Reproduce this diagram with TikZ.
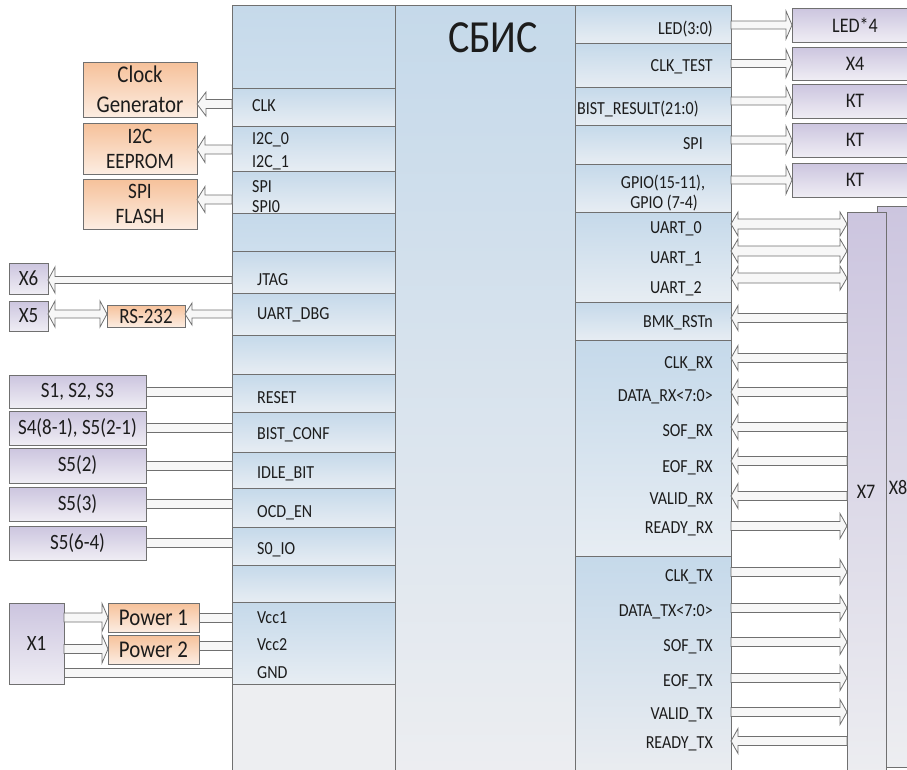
\documentclass[tikz,border=0pt]{standalone}
\usepackage{fontspec}
\setmainfont{Carlito}[FakeStretch=0.87]
\usetikzlibrary{calc}
\definecolor{chipblue}{RGB}{197,217,234}
\definecolor{cellbot}{RGB}{231,237,243}
\definecolor{chipgray}{RGB}{237,238,241}
\definecolor{orTop}{RGB}{246,193,154}
\definecolor{orBot}{RGB}{252,237,226}
\definecolor{puTop}{RGB}{204,197,223}
\definecolor{puBot}{RGB}{239,237,244}
\definecolor{edge}{RGB}{112,112,112}
\definecolor{txt}{RGB}{28,28,28}
\definecolor{arrfill}{RGB}{247,247,247}
\newcommand\mkbox[7]{\node[#2, minimum width={(#5-#3)*1pt}, minimum height={(#6-#4)*1pt}] (#1) at ({(#3+#5)/2},{(#4+#6)/2}) {#7};}
\tikzset{
  basebox/.style={draw=edge, line width=0.9pt, inner sep=0pt, outer sep=0pt, text=txt, align=center},
  cell/.style={basebox, top color=chipblue, bottom color=cellbot},
  cellblue/.style={basebox, top color=chipblue, bottom color=chipblue!85!white},
  cellgray/.style={basebox, fill=chipgray},
  corecol/.style={basebox, top color=chipblue, bottom color=chipgray},
  orbox/.style={basebox, top color=orTop, bottom color=orBot, font=\fontsize{24}{29}\selectfont},
  pubox/.style={basebox, top color=puTop, bottom color=puBot, font=\fontsize{21.8}{25}\selectfont},
  rbox/.style={pubox, font=\fontsize{20.7}{24}\selectfont},
  tallbox/.style={basebox, top color=puTop, bottom color=chipgray},
  lblL/.style={anchor=base west, inner sep=0pt, text=txt, font=\fontsize{18.4}{21}\selectfont},
  lblR/.style={anchor=base east, inner sep=0pt, text=txt, font=\fontsize{18.4}{21}\selectfont},
  lblC/.style={anchor=base, inner sep=0pt, text=txt, font=\fontsize{18.4}{21}\selectfont},
  fatarr/.style n args={3}{draw=edge, fill=arrfill, line width=0.8pt, line join=miter,
    to path={let \p1=(\tikztostart), \p2=(\tikztotarget), \n1={((\x2>\x1)*2-1)} in
      (\x1,{\y1+(#1)}) -- ({\x2-(\n1)*(#3)},{\y1+(#1)}) -- ({\x2-(\n1)*(#3)},{\y1+(#2)})
      -- (\x2,\y1) -- ({\x2-(\n1)*(#3)},{\y1-(#2)}) -- ({\x2-(\n1)*(#3)},{\y1-(#1)})
      -- (\x1,{\y1-(#1)}) -- cycle}},
  fatdbl/.style n args={3}{draw=edge, fill=arrfill, line width=0.8pt, line join=miter,
    to path={let \p1=(\tikztostart), \p2=(\tikztotarget), \n1={((\x2>\x1)*2-1)} in
      (\x1,\y1) -- ({\x1+(\n1)*(#3)},{\y1+(#2)}) -- ({\x1+(\n1)*(#3)},{\y1+(#1)})
      -- ({\x2-(\n1)*(#3)},{\y1+(#1)}) -- ({\x2-(\n1)*(#3)},{\y1+(#2)}) -- (\x2,\y1)
      -- ({\x2-(\n1)*(#3)},{\y1-(#2)}) -- ({\x2-(\n1)*(#3)},{\y1-(#1)})
      -- ({\x1+(\n1)*(#3)},{\y1-(#1)}) -- ({\x1+(\n1)*(#3)},{\y1-(#2)}) -- cycle}},
  bandline/.style={draw=edge, fill=arrfill, line width=0.8pt,
    to path={let \p1=(\tikztostart), \p2=(\tikztotarget) in
      (\x1,{\y1+(#1)}) rectangle (\x2,{\y1-(#1)})}},
  arrbig/.style={fatarr={4.5pt}{12.5pt}{7pt}},
  arrdbl/.style={fatdbl={5pt}{12pt}{7pt}},
}
\begin{document}
\begin{tikzpicture}[x=1pt,y=-1pt]
\useasboundingbox (0,0) rectangle (907,769);
\clip (0,0) rectangle (907,769);
% core column
\mkbox{core}{corecol}{395}{5}{575}{790}{}
\node[anchor=base, inner sep=0pt, text=txt, font=\fontsize{46}{50}\selectfont] (title) at (493,52) {СБИС};
% left column cells
\mkbox{lc1}{cellblue}{232}{5}{395}{88}{}
\mkbox{lclk}{cell}{232}{88}{395}{126}{}
\mkbox{li2c}{cell}{232}{126}{395}{171}{}
\mkbox{lspi}{cell}{232}{171}{395}{213}{}
\mkbox{lc5}{cellblue}{232}{213}{395}{251}{}
\mkbox{ljtag}{cell}{232}{251}{395}{293}{}
\mkbox{luart}{cell}{232}{293}{395}{335}{}
\mkbox{lc8}{cell}{232}{335}{395}{374}{}
\mkbox{lreset}{cell}{232}{374}{395}{412}{}
\mkbox{lbist}{cell}{232}{412}{395}{452}{}
\mkbox{lidle}{cell}{232}{452}{395}{488}{}
\mkbox{locd}{cell}{232}{488}{395}{527}{}
\mkbox{lsoio}{cell}{232}{527}{395}{565}{}
\mkbox{lc14}{cell}{232}{565}{395}{602}{}
\mkbox{lvcc}{cell}{232}{602}{395}{684}{}
\mkbox{lc16}{cellgray}{232}{684}{395}{790}{}
% right column cells
\mkbox{rled}{cell}{575}{5}{731}{43}{}
\mkbox{rclkt}{cell}{575}{43}{731}{87}{}
\mkbox{rbist}{cell}{575}{87}{731}{125}{}
\mkbox{rspi}{cell}{575}{125}{731}{164}{}
\mkbox{rgpio}{cell}{575}{164}{731}{212}{}
\mkbox{ruart}{cell}{575}{212}{731}{302}{}
\mkbox{rbmk}{cell}{575}{302}{731}{340}{}
\mkbox{rrx}{cell}{575}{340}{731}{556}{}
\mkbox{rtx}{corecol}{575}{556}{731}{790}{}
% left labels
\node[lblL] (tclk) at (252,111) {CLK};
\node[lblL] (ti2ca) at (252,144) {I2C\_0};
\node[lblL] (ti2cb) at (252,167) {I2C\_1};
\node[lblL] (tspia) at (252,192) {SPI};
\node[lblL] (tspib) at (252,212) {SPI0};
\node[lblL] (tjtag) at (257,285) {JTAG};
\node[lblL] (tuart) at (257,319) {UART\_DBG};
\node[lblL] (treset) at (257,403) {RESET};
\node[lblL] (tbist) at (257,439) {BIST\_CONF};
\node[lblL] (tidle) at (257,478) {IDLE\_BIT};
\node[lblL] (tocd) at (257,517) {OCD\_EN};
\node[lblL] (tsoio) at (257,554) {S0\_IO};
\node[lblL] (tvcca) at (257,623) {Vcc1};
\node[lblL] (tvccb) at (257,650) {Vcc2};
\node[lblL] (tgnd) at (257,678) {GND};
% right labels
\node[lblR] (tled) at (713,34) {LED(3:0)};
\node[lblR] (tclkt) at (713,71) {CLK\_TEST};
\node[lblL] (tbres) at (577,114) {BIST\_RESULT(21:0)};
\node[lblR] (tspir) at (703,149) {SPI};
\node[lblC] (tgpa) at (663,188) {GPIO(15-11),};
\node[lblC] (tgpb) at (664,208) {GPIO (7-4)};
\node[lblR] (tua) at (702,233) {UART\_0};
\node[lblR] (tub) at (702,263) {UART\_1};
\node[lblR] (tuc) at (702,293) {UART\_2};
\node[lblR] (tbmk) at (713,327) {BMK\_RSTn};
\node[lblR] (tclkrx) at (713,368) {CLK\_RX};
\node[lblR] (tdrx) at (713,401) {DATA\_RX<7:0>};
\node[lblR] (tsofrx) at (713,436) {SOF\_RX};
\node[lblR] (teofrx) at (713,472) {EOF\_RX};
\node[lblR] (tvrx) at (713,504) {VALID\_RX};
\node[lblR] (trrx) at (713,533) {READY\_RX};
\node[lblR] (tclktx) at (713,581) {CLK\_TX};
\node[lblR] (tdtx) at (713,616) {DATA\_TX<7:0>};
\node[lblR] (tsoftx) at (713,651) {SOF\_TX};
\node[lblR] (teoftx) at (713,686) {EOF\_TX};
\node[lblR] (tvtx) at (713,719) {VALID\_TX};
\node[lblR] (trtx) at (713,748) {READY\_TX};
% external boxes left
\mkbox{clkgen}{orbox, font=\fontsize{24}{30}\selectfont}{83}{62}{197}{117}{Clock\\Generator}
\mkbox{ieep}{orbox, font=\fontsize{22}{25}\selectfont}{83}{123}{197}{174}{I2C\\EEPROM}
\mkbox{spif}{orbox, font=\fontsize{22}{25}\selectfont}{83}{179}{197}{229}{SPI\\FLASH}
\mkbox{xsix}{pubox}{9}{263}{48}{294}{X6}
\mkbox{xfive}{pubox}{9}{301}{48}{331}{X5}
\mkbox{rsb}{orbox, font=\fontsize{21.8}{24}\selectfont}{107}{305}{185}{327}{RS-232}
\mkbox{sa}{pubox}{9}{375}{146}{408}{S1, S2, S3}
\mkbox{sb}{pubox}{9}{411}{146}{445}{S4(8-1), S5(2-1)}
\mkbox{sc}{pubox}{9}{448}{146}{483}{S5(2)}
\mkbox{sd}{pubox}{9}{487}{146}{521}{S5(3)}
\mkbox{se}{pubox}{9}{526}{146}{560}{S5(6-4)}
\mkbox{xone}{pubox}{9}{603}{64}{684}{X1}
\mkbox{pwa}{orbox}{108}{603}{199}{632}{Power 1}
\mkbox{pwb}{orbox}{108}{635}{199}{664}{Power 2}
% external boxes right
\mkbox{ledb}{rbox}{792}{8}{918}{42}{LED*4}
\mkbox{xfour}{rbox}{792}{47}{918}{80}{X4}
\mkbox{kta}{rbox}{792}{84}{918}{118}{КТ}
\mkbox{ktb}{rbox}{792}{123}{918}{157}{КТ}
\mkbox{ktc}{rbox}{792}{163}{918}{197}{КТ}
\mkbox{xeight}{tallbox}{877}{206}{918}{767}{}
\mkbox{xseven}{tallbox}{847}{212}{886}{790}{}
\node[inner sep=0pt, text=txt, font=\fontsize{20.7}{24}\selectfont] (lxseven) at (866,492) {X7};
\node[inner sep=0pt, text=txt, font=\fontsize{20.7}{24}\selectfont] (lxeight) at (898,487) {X8};
% left connectors
\draw[fatarr={4.5pt}{12pt}{9pt}] (lclk.west |- 0,104) to (clkgen.east);
\draw[fatarr={4.5pt}{13pt}{8pt}] (li2c.west |- 0,149.5) to (ieep.east);
\draw[fatarr={4.5pt}{13pt}{8pt}] (lspi.west |- 0,199.5) to (spif.east);
\draw[fatarr={3.5pt}{13pt}{7pt}] (ljtag.west |- 0,280) to (xsix.east);
\draw[fatarr={4pt}{11pt}{7pt}] (luart.west |- 0,314) to (rsb.east);
\draw[fatdbl={4pt}{13pt}{7pt}] (rsb.west |- 0,314) to (xfive.east);
\draw[bandline=4.5pt] (sa.east) to (lreset.west);
\draw[bandline=4.5pt] (sb.east) to (lbist.west);
\draw[bandline=4.5pt] (sc.east) to (lidle.west);
\draw[bandline=4.5pt] (sd.east) to (locd.west);
\draw[bandline=4.5pt] (se.east) to (lsoio.west);
\draw[fatarr={4.5pt}{14pt}{6pt}] (xone.east |- 0,617.5) to (pwa.west);
\draw[fatarr={4.5pt}{14pt}{6pt}] (xone.east |- 0,649) to (pwb.west);
\draw[bandline=4.5pt] (pwa.east |- 0,617.5) to (lvcc.west);
\draw[bandline=4.5pt] (pwb.east |- 0,646) to (lvcc.west);
\draw[bandline=4.5pt] (xone.east |- 0,672.5) to (lvcc.west);
% right connectors
\draw[fatarr={4pt}{14pt}{6pt}] (rled.east |- ledb.west) to (ledb.west);
\draw[fatarr={4pt}{14pt}{6pt}] (rclkt.east |- xfour.west) to (xfour.west);
\draw[fatarr={4pt}{14pt}{6pt}] (rbist.east |- kta.west) to (kta.west);
\draw[fatarr={4pt}{14pt}{6pt}] (rspi.east |- ktb.west) to (ktb.west);
\draw[fatarr={4pt}{14pt}{6pt}] (rgpio.east |- ktc.west) to (ktc.west);
\draw[arrdbl] (ruart.east |- 0,224) to (xseven.west);
\draw[arrdbl] (ruart.east |- 0,251) to (xseven.west);
\draw[arrdbl] (ruart.east |- 0,278) to (xseven.west);
\draw[arrbig] (xseven.west |- 0,318) to (rbmk.east);
\draw[arrbig] (xseven.west |- 0,358) to (rrx.east);
\draw[arrbig] (xseven.west |- 0,392) to (rrx.east);
\draw[arrbig] (xseven.west |- 0,427) to (rrx.east);
\draw[arrbig] (xseven.west |- 0,461) to (rrx.east);
\draw[arrbig] (xseven.west |- 0,496) to (rrx.east);
\draw[arrbig] (rrx.east |- 0,526) to (xseven.west);
\draw[arrbig] (rtx.east |- 0,572) to (xseven.west);
\draw[arrbig] (rtx.east |- 0,608) to (xseven.west);
\draw[arrbig] (rtx.east |- 0,642) to (xseven.west);
\draw[arrbig] (rtx.east |- 0,678) to (xseven.west);
\draw[arrbig] (rtx.east |- 0,712) to (xseven.west);
\draw[arrbig] (xseven.west |- 0,741) to (rtx.east);
\end{tikzpicture}
\end{document}
